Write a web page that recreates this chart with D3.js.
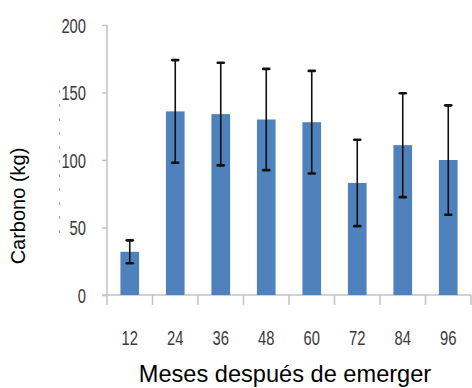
<!DOCTYPE html>
<html><head><meta charset="utf-8">
<script src="https://cdn.jsdelivr.net/npm/d3@7"></script>
<style>
html,body{margin:0;padding:0;background:#fff;}
svg{display:block;}
</style></head>
<body>
<svg id="chart" width="472" height="388"></svg>
<script>
const months = ["12","24","36","48","60","72","84","96"];
const carbon = [32, 136, 134, 130, 128, 83, 111, 100];
const errors = [8.5, 38, 38, 37.5, 38, 32, 38.5, 40.5];
const yTicks = [0, 50, 100, 150, 200];

const svg = d3.select("#chart");
const x = d3.scaleBand().domain(months).range([107, 471]).paddingInner(0.59).paddingOuter(0.295);
const y = d3.scaleLinear().domain([0, 200]).range([295, 25]);
const axisColor = "#c3c3c3";
const labelFont = "'Liberation Sans', Arial, sans-serif";
const digitW = 8.2;

// stray dashed mark
svg.append("line").attr("x1", 59.5).attr("x2", 59.5).attr("y1", 90).attr("y2", 238)
  .attr("stroke", "#666").attr("stroke-width", 1).attr("stroke-dasharray", "3,11").attr("opacity", 0.6);

// Y axis
const yAxis = svg.append("g").attr("transform", "translate(107,0)")
  .call(d3.axisLeft(y).tickValues(yTicks).tickSize(5).tickPadding(16));
yAxis.select(".domain").attr("stroke", axisColor).attr("stroke-width", 1.5).attr("d", "M0,25V295");
yAxis.selectAll(".tick line").attr("stroke", axisColor).attr("stroke-width", 1.5);
yAxis.selectAll(".tick text").attr("font-family", labelFont).attr("font-size", 20).attr("fill", "#3a3a3a")
  .attr("dy", "0.36em")
  .attr("textLength", d => String(d).length * digitW).attr("lengthAdjust", "spacingAndGlyphs");

// X axis
const xAxis = svg.append("g").attr("transform", "translate(0,295)")
  .call(d3.axisBottom(x).tickSize(0).tickPadding(36));
xAxis.select(".domain").attr("stroke", axisColor).attr("stroke-width", 1.5).attr("d", "M102,0H471");
xAxis.selectAll(".tick text").attr("font-family", labelFont).attr("font-size", 20).attr("fill", "#3a3a3a")
  .attr("textLength", d => String(d).length * digitW).attr("lengthAdjust", "spacingAndGlyphs");
const step = x.step();
const bounds = d3.range(months.length + 1).map(i => x(months[0]) - step * x.paddingInner() / 2 + i * step);
xAxis.selectAll(".bt").data(bounds).join("line").attr("class", "bt")
  .attr("x1", d => d).attr("x2", d => d).attr("y1", 0).attr("y2", 10)
  .attr("stroke", axisColor).attr("stroke-width", 1.5);

// Bars
svg.append("g").selectAll("rect").data(months).join("rect")
  .attr("x", d => x(d)).attr("width", x.bandwidth())
  .attr("y", (d, i) => y(carbon[i])).attr("height", (d, i) => y(0) - y(carbon[i]))
  .attr("fill", "#4f81bd");

// Error bars
const eb = svg.append("g").attr("stroke", "#111");
months.forEach((m, i) => {
  const cx = x(m) + x.bandwidth() / 2;
  const top = y(carbon[i] + errors[i]), bot = y(carbon[i] - errors[i]);
  eb.append("line").attr("x1", cx).attr("x2", cx).attr("y1", top).attr("y2", bot).attr("stroke-width", 1.6);
  [top, bot].forEach(yy => eb.append("line").attr("x1", cx - 3).attr("x2", cx + 3)
    .attr("y1", yy).attr("y2", yy).attr("stroke-width", 2.6).attr("stroke-linecap", "round"));
});

// Titles
svg.append("text").attr("x", 285).attr("y", 382).attr("text-anchor", "middle")
  .attr("font-family", "'Liberation Sans', Arial, sans-serif").attr("font-size", 23.6).attr("fill", "#000")
  .text("Meses después de emerger");
svg.append("text").attr("transform", "translate(25,206) rotate(-90)").attr("text-anchor", "middle")
  .attr("font-family", "'Liberation Sans', Arial, sans-serif").attr("font-size", 20).attr("fill", "#000")
  .text("Carbono (kg)");
</script>
</body></html>
